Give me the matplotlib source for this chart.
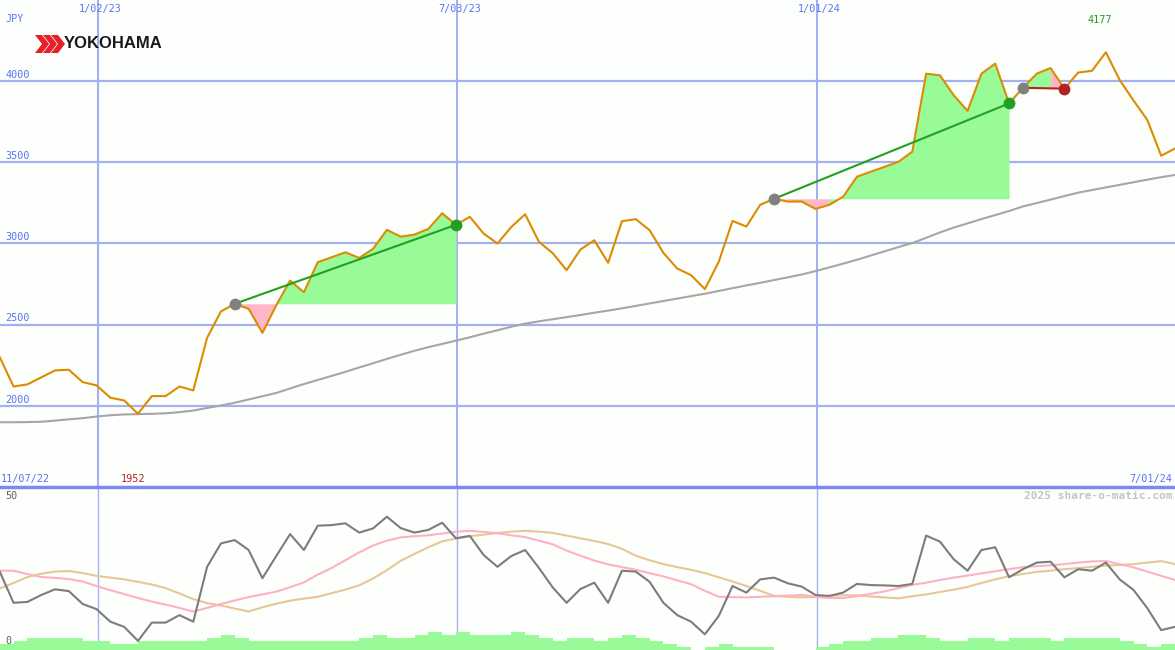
import numpy as np
import matplotlib
matplotlib.use('Agg')
import matplotlib.pyplot as plt
import matplotlib.transforms as mtransforms
from matplotlib.patches import Polygon

# weekly closes, weeks counted from 11/07/22
weeks = np.arange(1, 87)
price = [2301, 2120, 2133, 2176, 2219, 2223, 2147, 2127, 2051, 2034,
         1952, 2061, 2061, 2120, 2096, 2420, 2582, 2629, 2598, 2450,
         2620, 2772, 2700, 2885, 2915, 2946, 2911, 2967, 3084, 3042,
         3055, 3090, 3186, 3115, 3164, 3061, 3000, 3102, 3180, 3010,
         2940, 2836, 2963, 3020, 2881, 3137, 3150, 3082, 2942, 2846,
         2805, 2719, 2887, 3139, 3104, 3238, 3275, 3258, 3258, 3213,
         3238, 3288, 3411, 3442, 3472, 3503, 3565, 4045, 4035, 3912,
         3816, 4045, 4107, 3862, 3958, 4045, 4080, 3953, 4052, 4063,
         4177, 4006, 3880, 3760, 3540, 3585]
ma = [1900, 1900, 1901, 1903, 1910, 1918, 1925, 1935, 1943, 1948,
      1950, 1952, 1955, 1962, 1972, 1988, 2003, 2020, 2040, 2060,
      2080, 2108, 2135, 2160, 2185, 2210, 2237, 2263, 2290, 2315,
      2340, 2362, 2382, 2402, 2423, 2445, 2466, 2488, 2507, 2521,
      2534, 2547, 2560, 2574, 2587, 2601, 2616, 2631, 2646, 2661,
      2676, 2691, 2708, 2725, 2742, 2758, 2775, 2792, 2809, 2830,
      2853, 2876, 2900, 2926, 2952, 2978, 3003, 3035, 3068, 3098,
      3124, 3150, 3175, 3200, 3228, 3249, 3270, 3292, 3313, 3329,
      3345, 3361, 3377, 3393, 3408, 3422]

# lower panel oscillator lines (0..50)
osc = [23.8, 13.4, 13.7, 16.0, 17.9, 17.3, 13.0, 11.3, 7.1, 5.4,
       0.7, 6.8, 6.8, 9.3, 7.1, 25.4, 33.2, 34.3, 31.0, 21.6,
       29.0, 36.3, 31.0, 39.1, 39.3, 39.9, 36.8, 38.2, 42.1, 38.3,
       36.8, 37.7, 40.1, 34.9, 35.7, 29.3, 25.4, 29.0, 31.0, 25.0,
       18.5, 13.4, 18.0, 20.1, 13.4, 24.1, 23.8, 20.4, 13.4, 9.3,
       7.1, 2.9, 9.0, 19.0, 16.8, 21.2, 21.8, 19.9, 18.8, 16.0,
       15.7, 16.8, 19.7, 19.3, 19.2, 19.0, 19.7, 35.8, 33.8, 27.9,
       24.1, 31.0, 31.9, 21.9, 24.6, 26.8, 27.1, 21.9, 24.6, 24.1,
       26.8, 21.2, 17.7, 11.6, 4.3, 5.4]
osc_fast = [24.1, 24.1, 23.0, 22.0, 21.7, 21.3, 20.5, 19.0, 17.6, 16.3,
            15.0, 13.8, 12.8, 11.7, 10.5, 11.7, 13.0, 14.2, 15.3, 16.2,
            17.1, 18.6, 20.2, 22.8, 25.0, 27.6, 30.2, 32.5, 34.1, 35.2,
            35.6, 35.9, 36.5, 37.1, 37.4, 37.0, 36.6, 35.9, 35.3, 34.1,
            32.9, 30.8, 29.1, 27.5, 26.2, 25.3, 24.4, 23.3, 22.2, 20.9,
            19.6, 17.4, 15.4, 15.3, 15.2, 15.4, 15.6, 15.8, 16.0, 15.4,
            15.0, 15.0, 15.6, 16.4, 17.2, 18.3, 19.4, 20.1, 21.0, 21.8,
            22.5, 23.2, 23.9, 24.6, 25.3, 25.6, 25.9, 26.3, 26.8, 27.2,
            27.3, 26.3, 25.2, 23.8, 22.4, 21.0]
osc_slow = [18.2, 20.0, 22.0, 23.1, 23.8, 24.0, 23.3, 22.4, 21.8, 21.2,
            20.4, 19.5, 18.3, 16.5, 14.6, 13.3, 12.5, 11.5, 10.5, 11.9,
            13.1, 14.1, 14.8, 15.4, 16.6, 17.8, 19.2, 21.5, 24.3, 27.4,
            29.7, 31.9, 33.9, 34.8, 35.6, 36.1, 36.7, 37.1, 37.4, 37.1,
            36.7, 35.8, 34.9, 34.0, 33.0, 31.4, 29.1, 27.6, 26.3, 25.3,
            24.4, 23.3, 21.9, 20.5, 19.0, 17.4, 15.7, 15.4, 15.2, 15.4,
            15.7, 15.9, 15.9, 15.5, 15.2, 14.9, 15.6, 16.2, 17.0, 17.8,
            18.7, 20.0, 21.2, 22.3, 23.0, 23.7, 24.1, 24.6, 25.0, 25.4,
            25.8, 26.0, 26.3, 26.8, 27.3, 26.3]
volume = [2, 3, 4, 4, 4, 4, 3, 3, 2, 2, 3, 3, 3, 3, 3, 4, 5, 4, 3, 3,
          3, 3, 3, 3, 3, 3, 4, 5, 4, 4, 5, 6, 5, 6, 5, 5, 5, 6, 5, 4,
          3, 4, 4, 3, 4, 5, 4, 3, 2, 1, 0, 1, 2, 1, 1, 1, 0, 0, 0, 1,
          2, 3, 3, 4, 4, 5, 5, 4, 3, 3, 4, 4, 3, 4, 4, 4, 3, 4, 4, 4,
          4, 3, 2, 1, 2, 2]

# trades: entry week, exit week, colour segments (from, to, colour)
trades = [
    (18, 34, 'win', [(18, 21, 'pink'), (21, 34, 'green')]),
    (57, 74, 'win', [(57, 61, 'pink'), (61, 74, 'green')]),
    (75, 78, 'loss', [(75, 77, 'green'), (77, 78, 'pink')]),
]

y_ticks = [2000, 2500, 3000, 3500, 4000]
date_weeks = [8.12, 34.1, 60.1]
date_labels = ['1/02/23', '7/03/23', '1/01/24']

BG = '#fdfffd'
GRID = '#a4b0f0'
BLUE = '#5a72f5'
FILL_G = '#98fb98'
FILL_P = '#ffb6c8'
LINE_G = '#22a022'
LINE_R = '#b22222'
mono = 'DejaVu Sans Mono'

W, H = 1175, 650
fig = plt.figure(figsize=(W / 100, H / 100), dpi=100, facecolor=BG)
ax = fig.add_axes([0, 163 / H, 1, 487 / H], facecolor=BG)
ax2 = fig.add_axes([0, 0, 1, 163 / H], facecolor=BG)

xlim = (1.02, 86.0)
for a in (ax, ax2):
    a.set_xlim(*xlim)
    a.set_xticks([])
    a.set_yticks([])
    for s in a.spines.values():
        s.set_visible(False)

ax.set_ylim(1501.5, 4498.5)
ax2.set_ylim(-2.33, 52)

# grid
for v in y_ticks:
    ax.axhline(v, color=GRID, lw=1.6, zorder=1)
for d in date_weeks:
    ax.axvline(d, color=GRID, lw=1.5, zorder=1)
    ax2.axvline(d, color=GRID, lw=1.0, zorder=1)

price_a = np.array(price, dtype=float)
fill_c = {'green': FILL_G, 'pink': FILL_P}
for w0, w1, res, segs in trades:
    base = price_a[w0 - 1]
    for s0, s1, c in segs:
        xs = weeks[s0 - 1:s1]
        ax.fill_between(xs, price_a[s0 - 1:s1], base, color=fill_c[c],
                        lw=0, zorder=2)

ax.plot(weeks, ma, color='#a6a6a6', lw=1.5, zorder=3)
ax.plot(weeks, price, color='#dc8c00', lw=1.5, zorder=4)

for w0, w1, res, segs in trades:
    col = LINE_G if res == 'win' else LINE_R
    ax.plot([w0, w1], [price[w0 - 1], price[w1 - 1]], color=col, lw=1.5,
            zorder=5)
    ax.plot(w0, price[w0 - 1], 'o', color='#808080', ms=8.5, mew=0, zorder=6)
    ax.plot(w1, price[w1 - 1], 'o', color=col, ms=8.5, mew=0, zorder=6)

# y labels
tr = mtransforms.blended_transform_factory(ax.transAxes, ax.transData)
for v in y_ticks:
    ax.annotate(str(v), xy=(0, v), xycoords=tr, xytext=(4, 1),
                textcoords='offset points', color=BLUE, fontsize=7.3,
                family=mono, va='bottom', ha='left')

def px(x, y):
    return x / W, 1 - y / H

for d, lab in zip(date_weeks, date_labels):
    xf = ax.transAxes.inverted().transform(ax.transData.transform((d, 3000)))[0]
    fig.text(xf + 2 / W, 1 - 9 / H, lab, color=BLUE, fontsize=7.3,
             family=mono, ha='center', va='center')

fig.text(*px(5, 19), 'JPY', color=BLUE, fontsize=7.3, family=mono,
         va='center')
fig.text(*px(1, 479), '11/07/22', color=BLUE, fontsize=7.3, family=mono,
         va='center')
fig.text(*px(1172, 479), '7/01/24', color=BLUE, fontsize=7.3, family=mono,
         va='center', ha='right')
fig.text(*px(121, 479), str(min(price)), color='#b22222', fontsize=7.3,
         family=mono, va='center')
fig.text(*px(1088, 20), str(max(price)), color='#229922', fontsize=7.3,
         family=mono, va='center')

# separator between panels
ax2.axhline(52, color='#7a8af0', lw=2.5, zorder=5, clip_on=False)

# lower panel
ax2.bar(weeks, volume, width=1.0, align='edge', bottom=-2.33,
        color=FILL_G, lw=0, zorder=2)
ax2.plot(weeks, osc_slow, color='#e6c896', lw=1.5, zorder=3)
ax2.plot(weeks, osc_fast, color='#ffb0c4', lw=1.5, zorder=3)
ax2.plot(weeks, osc, color='#7c7c7c', lw=1.5, zorder=4)

fig.text(*px(5, 496), '50', color='#606060', fontsize=7.3, family=mono,
         va='center')
fig.text(*px(5, 641), '0', color='#606060', fontsize=7.3, family=mono,
         va='center')
fig.text(*px(1172, 496), '2025 share-o-matic.com', color='#c4c4c4',
         fontsize=8, family=mono, weight='bold', va='center', ha='right')

# logo
for i in range(3):
    x0 = 35 + i * 8
    pts = [(x0, 35), (x0 + 7, 35), (x0 + 14, 44), (x0 + 7, 53),
           (x0, 53), (x0 + 7, 44)]
    fig.patches.append(Polygon([px(*p) for p in pts], closed=True,
                               transform=fig.transFigure, color='#e8202a',
                               lw=0))
fig.text(*px(64, 44), 'YOKOHAMA', color='#1a1a1a', fontsize=12,
         family='Liberation Sans', weight='bold', va='center')

fig.savefig('out.png', dpi=100, facecolor=BG)
